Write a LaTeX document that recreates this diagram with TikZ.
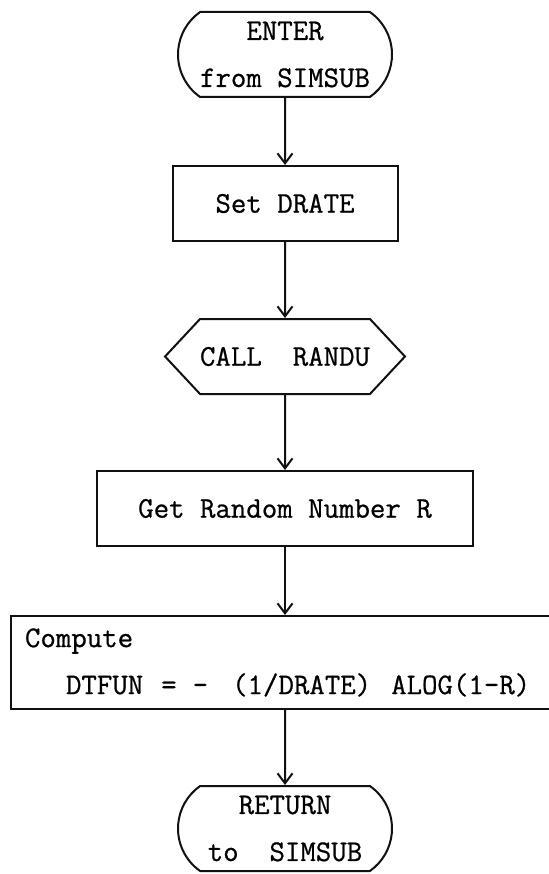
\documentclass[tikz,border=0pt]{standalone}
\usepackage{fontspec}
\newfontfamily\typerfont{Latin Modern Mono}[FakeBold=0.7, WordSpace={1,0,0}]
\usetikzlibrary{arrows.meta,positioning,shapes.misc,shapes.symbols}
\definecolor{flowink}{HTML}{111111}

\begin{document}
\begin{tikzpicture}[
  x=1pt, y=-1pt,
  font=\fontsize{30}{47}\selectfont\typerfont,
  >={Straight Barb[length=10pt,width=15pt]},
  line width=2pt,
  term/.style={draw=flowink, rounded rectangle, rounded rectangle arc length=110,
    align=center, minimum width=214pt, minimum height=85pt, inner sep=0pt},
  proc/.style={draw=flowink, minimum height=75pt, inner sep=0pt},
  prep/.style={draw=flowink, signal, signal to=west and east, signal pointer angle=94,
    minimum width=214pt, minimum height=75pt, inner sep=0pt},
]
\useasboundingbox (0,0) rectangle (548,874);
\node[term] (enter) at (285,54.5) {ENTER\\from SIMSUB};
\node[proc, minimum width=225pt, below=67pt of enter] (setd) {Set DRATE};
\node[prep, below=76pt of setd] (call) {CALL~~RANDU};
\node[proc, minimum width=376pt, below=75pt of call] (getr) {Get Random Number R};
\node[proc, anchor=north west, text width=532pt, minimum height=93pt,
  align=left, inner xsep=14pt] (comp) at (10,615)
  {Compute\\\hspace{41pt}DTFUN\hspace{18pt}=\hspace{16pt}-\hspace{24pt}(1/DRATE)\hspace{20pt}ALOG(1-R)};
\node[term] (ret) at (285,828.5) {RETURN\\to~~SIMSUB};
\draw[->, flowink] (enter) -- (setd);
\draw[->, flowink] (setd) -- (call);
\draw[->, flowink] (call) -- (getr);
\draw[->, flowink] (getr.south) -- (getr.south |- comp.north);
\draw[->, flowink] (ret.north |- comp.south) -- (ret);
\end{tikzpicture}
\end{document}
